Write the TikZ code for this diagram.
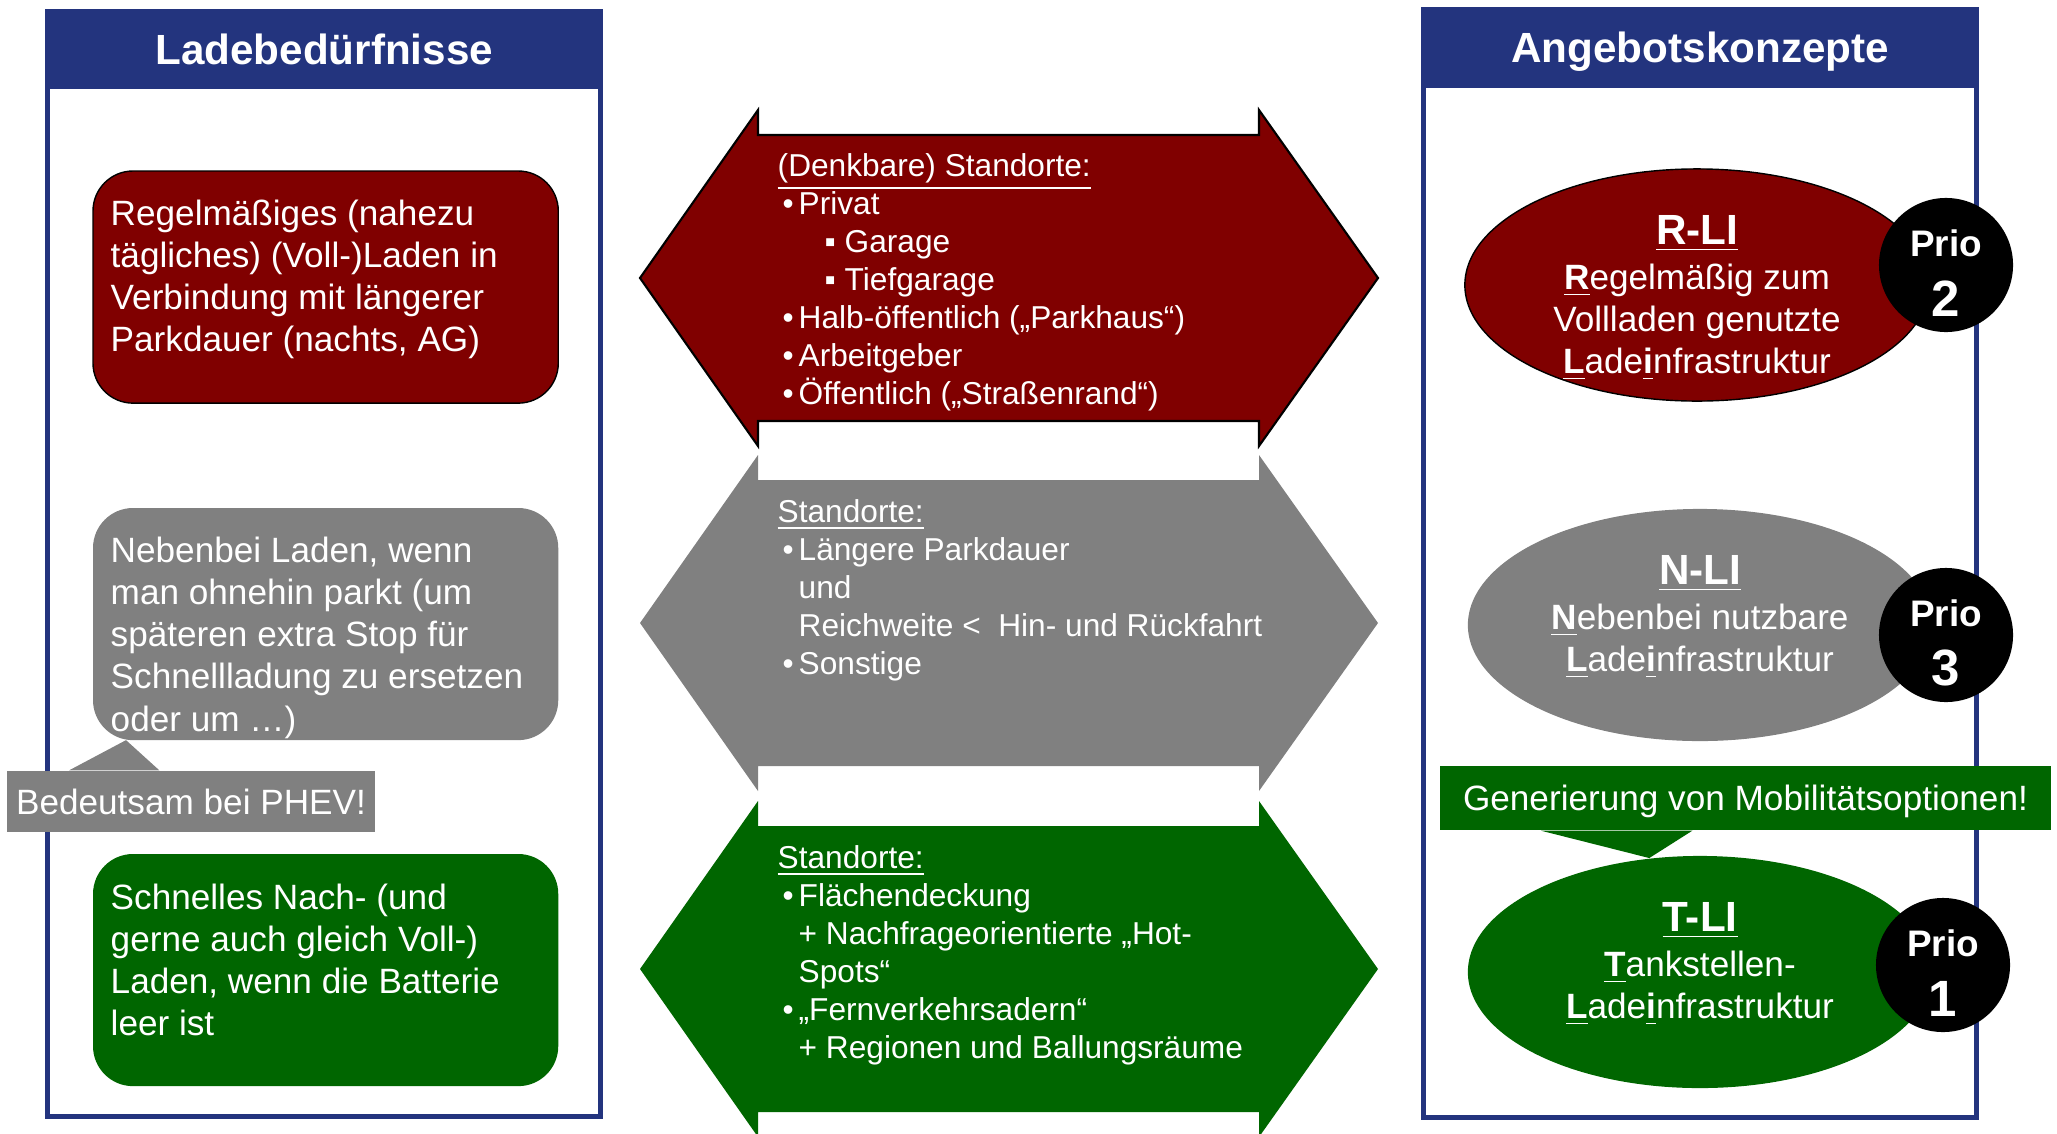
\documentclass[tikz,border=0pt]{standalone}
\usepackage{fontspec}
\setmainfont{Liberation Sans}
\usepackage{tikz}
\usepackage{xcolor}
\usetikzlibrary{shapes.geometric,positioning}

\definecolor{headBlue}{RGB}{35,52,126}
\definecolor{prioRed}{RGB}{128,0,0}
\definecolor{prioGray}{RGB}{128,128,128}
\definecolor{prioGreen}{RGB}{0,102,0}

% bullets for the site lists
\newcommand{\siteBullet}{\makebox[0.21cm][l]{\hspace{0.05cm}•}}
\newcommand{\siteSub}{\makebox[0.67cm][l]{\hspace{0.47cm}▪}}
\newcommand{\siteIndent}{\hspace*{0.21cm}}

\tikzset{
    panelFrame/.style={draw=headBlue, line width=0.05cm, anchor=north west, inner sep=0, outer sep=0},
    panelHead/.style={fill=headBlue, text=white, font=\fontsize{12}{14}\selectfont\bfseries, text depth=0pt, anchor=north west, inner sep=0, outer sep=0},
    needBox/.style={rounded corners=0.4cm, minimum width=4.65cm, minimum height=2.32cm, anchor=north west, inner sep=0, outer sep=0},
    needText/.style={text=white, font=\fontsize{10}{12}\selectfont, align=left, inner sep=0},
    siteText/.style={text=white, font=\fontsize{9}{10.8}\selectfont, align=left, anchor=north west, inner sep=0},
    conceptShape/.style={ellipse, minimum width=4.64cm, minimum height=2.32cm, inner sep=0},
    conceptText/.style={text=white, font=\fontsize{10}{11.9}\selectfont, align=center, inner sep=0},
    prioBadge/.style={circle, fill=black, minimum size=1.34cm, inner sep=0},
    prioText/.style={text=white, align=center, inner sep=0, font=\fontsize{10.5}{17}\selectfont\bfseries},
    noteBox/.style={text=white, font=\fontsize{10}{12}\selectfont, text depth=0pt, inner sep=0},
}

\begin{document}
\begin{tikzpicture}[x=0.01cm, y=-0.01cm]
    \useasboundingbox (0,0) rectangle (2057,1133);

    % double arrows in the middle (x positions, half heights)
    \def\tipLeft{640}
    \def\neckLeft{758}
    \def\neckRight{1259}
    \def\tipRight{1378}
    \def\headHalf{168}
    \def\shaftHalf{143}
    \def\redMid{278}
    \def\grayMid{623}
    \def\greenMid{969}

    %%% Ladebeduerfnisse %%%
    \node[panelFrame, minimum width=5.53cm, minimum height=11.03cm] (needFrame) at (47.5,12.5) {};
    \node[panelHead, minimum width=5.58cm, minimum height=0.8cm] (needHead) at (45,9) {Ladebedürfnisse};

    % red need
    \node[needBox, fill=prioRed, draw=black, line width=0.4pt] (regBox) at (93,171) {};
    \node[needText, below right=0.28cm and 0.17cm of regBox.north west] (regText) {Regelmäßiges (nahezu\\tägliches) (Voll-)Laden in\\Verbindung mit längerer\\Parkdauer (nachts, AG)};

    % gray need
    \node[needBox, fill=prioGray] (nebenBox) at (93,508) {};
    \node[needText, below right=0.28cm and 0.17cm of nebenBox.north west] (nebenText) {Nebenbei Laden, wenn\\man ohnehin parkt (um\\späteren extra Stop für\\Schnellladung zu ersetzen\\oder um …)};

    % green need
    \node[needBox, fill=prioGreen] (schnellBox) at (93,854) {};
    \node[needText, below right=0.29cm and 0.17cm of schnellBox.north west] (schnellText) {Schnelles Nach- (und\\gerne auch gleich Voll-)\\Laden, wenn die Batterie\\leer ist};

    % PHEV callout
    \node[noteBox, fill=prioGray, minimum width=3.68cm, minimum height=0.61cm] (phevNote) at (191,801.5) {Bedeutsam bei PHEV!};
    \coordinate (phevTip) at ([xshift=0.33cm]nebenBox.south west);
    \fill[prioGray] ([xshift=0.63cm]phevNote.north west) -- (phevTip) -- ([xshift=1.53cm]phevNote.north west) -- cycle;

    %%% Standorte %%%
    \filldraw[fill=prioRed, draw=black, line width=0.6pt] (\tipLeft,\redMid) -- (\neckLeft,\redMid-\headHalf) -- (\neckLeft,\redMid-\shaftHalf) -- (\neckRight,\redMid-\shaftHalf) -- (\neckRight,\redMid-\headHalf) -- (\tipRight,\redMid) -- (\neckRight,\redMid+\headHalf) -- (\neckRight,\redMid+\shaftHalf) -- (\neckLeft,\redMid+\shaftHalf) -- (\neckLeft,\redMid+\headHalf) -- cycle;
    \fill[prioGray] (\tipLeft,\grayMid) -- (\neckLeft,\grayMid-\headHalf) -- (\neckLeft,\grayMid-\shaftHalf) -- (\neckRight,\grayMid-\shaftHalf) -- (\neckRight,\grayMid-\headHalf) -- (\tipRight,\grayMid) -- (\neckRight,\grayMid+\headHalf) -- (\neckRight,\grayMid+\shaftHalf) -- (\neckLeft,\grayMid+\shaftHalf) -- (\neckLeft,\grayMid+\headHalf) -- cycle;
    \fill[prioGreen] (\tipLeft,\greenMid) -- (\neckLeft,\greenMid-\headHalf) -- (\neckLeft,\greenMid-\shaftHalf) -- (\neckRight,\greenMid-\shaftHalf) -- (\neckRight,\greenMid-\headHalf) -- (\tipRight,\greenMid) -- (\neckRight,\greenMid+\headHalf) -- (\neckRight,\greenMid+\shaftHalf) -- (\neckLeft,\greenMid+\shaftHalf) -- (\neckLeft,\greenMid+\headHalf) -- cycle;

    \node[siteText] (redSites) at (777,153) {\underline{(Denkbare) Standorte:}\\
        \siteBullet Privat\\
        \siteSub Garage\\
        \siteSub Tiefgarage\\
        \siteBullet Halb-öffentlich („Parkhaus“)\\
        \siteBullet Arbeitgeber\\
        \siteBullet Öffentlich („Straßenrand“)};
    \node[siteText] (graySites) at (777,499) {\underline{Standorte:}\\
        \siteBullet Längere Parkdauer\\
        \siteIndent und\\
        \siteIndent Reichweite <~ Hin- und Rückfahrt\\
        \siteBullet Sonstige};
    \node[siteText] (greenSites) at (777,845) {\underline{Standorte:}\\
        \siteBullet Flächendeckung\\
        \siteIndent + Nachfrageorientierte „Hot-\\
        \siteIndent Spots“\\
        \siteBullet „Fernverkehrsadern“\\
        \siteIndent + Regionen und Ballungsräume};

    %%% Angebotskonzepte %%%
    \node[panelFrame, minimum width=5.53cm, minimum height=11.07cm] (offerFrame) at (1423.5,9.5) {};
    \node[panelHead, minimum width=5.58cm, minimum height=0.81cm] (offerHead) at (1421,7) {Angebotskonzepte};

    % R-LI
    \node[conceptShape, fill=prioRed, draw=black, line width=0.4pt] (rliShape) at (1697,285) {};
    \node[conceptText] (rliText) at (1697,298) {{\fontsize{12}{11.9}\selectfont\bfseries\underline{R-LI}}\\[0.03cm]
        \underline{\textbf{R}}egelmäßig zum\\
        Vollladen genutzte\\
        \underline{\textbf{L}}ade\underline{\textbf{i}}nfrastruktur};
    \node[prioBadge] (rliPrio) at (1946,265) {};
    \node[prioText] (rliPrioText) at ([yshift=-0.08cm]rliPrio.center) {Prio\\{\fontsize{14.5}{17}\selectfont 2}};

    % N-LI
    \node[conceptShape, fill=prioGray] (nliShape) at (1700,625) {};
    \node[conceptText] (nliText) at (1700,617) {{\fontsize{12}{11.9}\selectfont\bfseries\underline{N-LI}}\\[0.03cm]
        \underline{\textbf{N}}ebenbei nutzbare\\
        \underline{\textbf{L}}ade\underline{\textbf{i}}nfrastruktur};
    \node[prioBadge] (nliPrio) at (1946,635) {};
    \node[prioText] (nliPrioText) at ([yshift=-0.08cm]nliPrio.center) {Prio\\{\fontsize{14.5}{17}\selectfont 3}};

    % T-LI
    \node[conceptShape, fill=prioGreen] (tliShape) at (1700,972) {};
    \node[conceptText] (tliText) at (1700,964) {{\fontsize{12}{11.9}\selectfont\bfseries\underline{T-LI}}\\[0.03cm]
        \underline{\textbf{T}}ankstellen-\\
        \underline{\textbf{L}}ade\underline{\textbf{i}}nfrastruktur};
    \node[prioBadge] (tliPrio) at (1943,965) {};
    \node[prioText] (tliPrioText) at ([yshift=-0.08cm]tliPrio.center) {Prio\\{\fontsize{14.5}{17}\selectfont 1}};

    % mobility callout
    \node[noteBox, fill=prioGreen, minimum width=6.11cm, minimum height=0.64cm] (mobilNote) at (1745.5,798) {Generierung von Mobilitätsoptionen!};
    \coordinate (mobilTip) at (tliShape.114);
    \fill[prioGreen] ([xshift=1.02cm]mobilNote.south west) -- (mobilTip) -- ([xshift=2.53cm]mobilNote.south west) -- cycle;
\end{tikzpicture}
\end{document}
